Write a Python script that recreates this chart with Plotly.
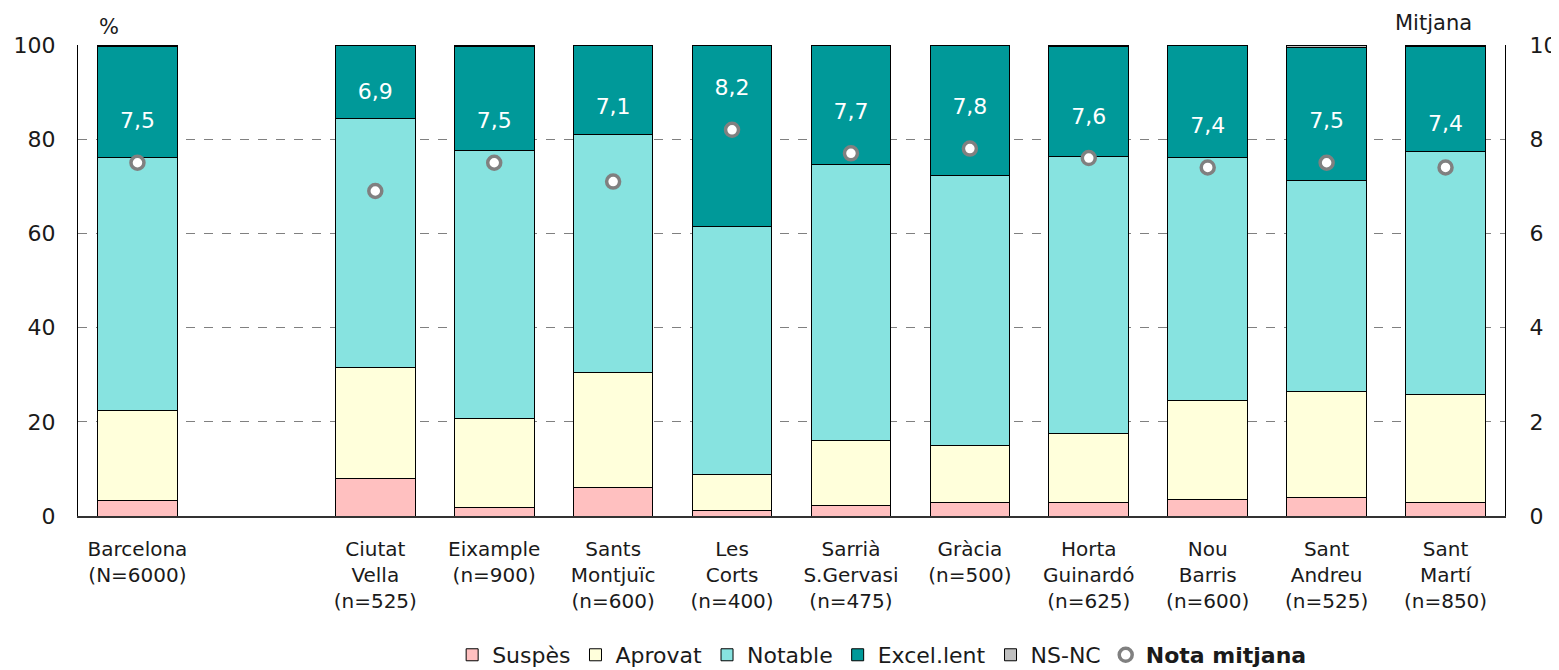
import plotly.graph_objects as go

categories = ["Barcelona<br>(N=6000)", " ", "Ciutat<br>Vella<br>(n=525)", "Eixample<br>(n=900)",
              "Sants<br>Montjuïc<br>(n=600)", "Les<br>Corts<br>(n=400)", "Sarrià<br>S.Gervasi<br>(n=475)",
              "Gràcia<br>(n=500)", "Horta<br>Guinardó<br>(n=625)", "Nou<br>Barris<br>(n=600)",
              "Sant<br>Andreu<br>(n=525)", "Sant<br>Martí<br>(n=850)"]
suspes = [3.3, None, 8.0, 1.8, 6.1, 1.2, 2.2, 2.8, 2.8, 3.6, 3.9, 2.8]
aprovat = [19.0, None, 23.6, 18.8, 24.3, 7.7, 13.8, 12.1, 14.7, 20.9, 22.5, 23.0]
notable = [53.8, None, 52.7, 56.9, 50.7, 52.5, 58.7, 57.5, 58.9, 51.6, 44.9, 51.6]
excel = [23.5, None, 15.5, 22.1, 18.9, 38.4, 25.3, 27.6, 23.2, 23.7, 28.1, 22.2]
nsnc = [0.4, None, 0.2, 0.4, 0.0, 0.2, 0.0, 0.0, 0.4, 0.2, 0.6, 0.4]
mitjana = [7.5, None, 6.9, 7.5, 7.1, 8.2, 7.7, 7.8, 7.6, 7.4, 7.5, 7.4]

series = [
    ("Suspès", suspes, "#FFC0C0"),
    ("Aprovat", aprovat, "#FFFFDB"),
    ("Notable", notable, "#87E3E0"),
    ("Excel.lent", excel, "#009999"),
    ("NS-NC", nsnc, "#C0C0C0"),
]

FONT = "DejaVu Sans, Verdana, sans-serif"
fig = go.Figure()
for name, vals, col in series:
    fig.add_trace(go.Bar(
        x=categories, y=vals, name=name,
        marker=dict(color=col, line=dict(color="#000000", width=1)),
    ))

fig.add_trace(go.Scatter(
    x=categories, y=mitjana, yaxis="y2", mode="markers", name="<b>Nota mitjana</b>",
    marker=dict(size=13, color="white", line=dict(color="#808080", width=3.5)),
))

# label position: above the marker, pushed up when it would fall into the Notable segment
lab_y, lab_t = [], []
for m, s, a, n in zip(mitjana, suspes, aprovat, notable):
    if m is None:
        lab_y.append(None)
        lab_t.append("")
    else:
        lab_y.append(max(m + 0.85, (s + a + n) / 10 + 0.55))
        lab_t.append(f"{m:.1f}".replace(".", ","))

fig.add_trace(go.Scatter(
    x=categories, y=lab_y, yaxis="y2", mode="text", text=lab_t, showlegend=False,
    textfont=dict(color="white", size=22, family=FONT), hoverinfo="skip",
))

fig.update_layout(
    width=1551, height=662,
    margin=dict(l=70, r=54, t=37, b=154, autoexpand=False),
    barmode="stack", bargap=0.33,
    plot_bgcolor="white", paper_bgcolor="white",
    font=dict(family=FONT, color="#1a1a1a"),
    xaxis=dict(showline=True, linecolor="#333333", linewidth=2, tickfont=dict(size=20),
               ticks="", showgrid=False, automargin=False, ticklabelstandoff=14,
               range=[-0.5, len(categories) - 0.5]),
    yaxis=dict(range=[0, 100], tickvals=[0, 20, 40, 60, 80, 100], showgrid=True,
               gridcolor="#808080", griddash="dash", gridwidth=1, zeroline=False,
               showline=True, linecolor="black", linewidth=1, ticks="", automargin=False,
               tickfont=dict(size=22), ticklabelstandoff=17),
    yaxis2=dict(range=[0, 10], tickvals=[0, 2, 4, 6, 8, 10], overlaying="y", side="right",
                showgrid=False, zeroline=False, showline=True, linecolor="black", linewidth=1,
                ticks="", tickfont=dict(size=22), ticklabelstandoff=19, automargin=False),
    legend=dict(orientation="h", x=0.5636, xanchor="center", xref="container",
                y=0.0227, yanchor="middle", yref="container", traceorder="normal",
                font=dict(size=22, family=FONT), itemwidth=30, tracegroupgap=0),
    annotations=[
        dict(text="%", xref="paper", yref="paper", x=0.022, y=1, yanchor="bottom",
             xanchor="center", showarrow=False, font=dict(size=21), yshift=4),
        dict(text="Mitjana", xref="paper", yref="paper", x=0.9496, y=1, yanchor="bottom",
             xanchor="center", showarrow=False, font=dict(size=21), yshift=8),
    ],
)

fig.write_html("out.html")
